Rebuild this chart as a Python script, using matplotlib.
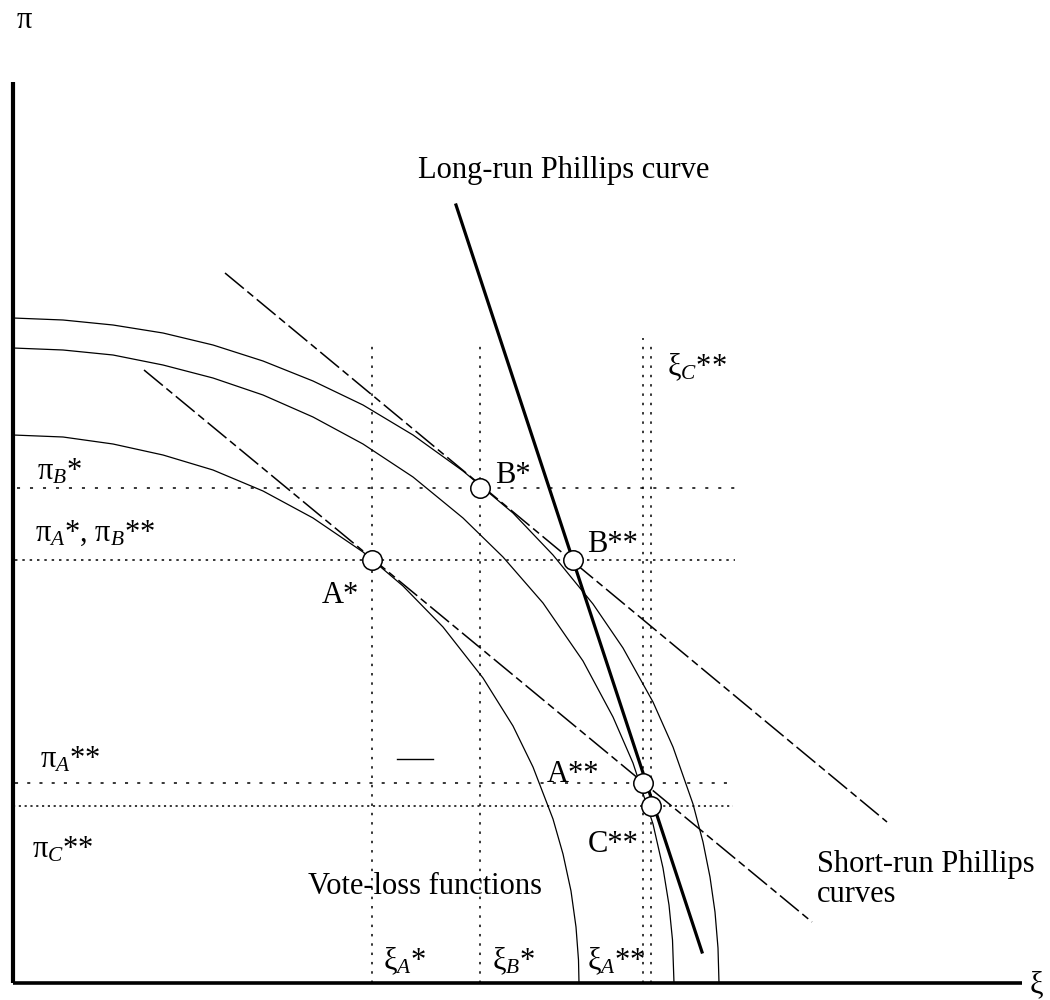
import matplotlib
matplotlib.use('Agg')
import matplotlib.pyplot as plt

plt.rcParams['font.family'] = ['Liberation Serif', 'DejaVu Serif']
plt.rcParams['mathtext.fontset'] = 'custom'
plt.rcParams['mathtext.rm'] = 'Liberation Serif'
plt.rcParams['mathtext.it'] = 'Liberation Serif:italic'

# ---------------- data (ξ = unemployment, π = inflation; arbitrary units) ----------------
axis_xi_max = 10.09
axis_pi_max = 9.01

# vote-loss functions
vl_inner_xi = [0.0, 0.5, 1.0, 1.5, 2.0, 2.5, 3.0, 3.5, 3.9, 4.3, 4.7, 5.0, 5.2,
               5.4, 5.5, 5.58, 5.63, 5.655, 5.66]
vl_inner_pi = [5.48, 5.46, 5.39, 5.28, 5.13, 4.92, 4.65, 4.31, 3.97, 3.56, 3.05, 2.57, 2.16,
               1.64, 1.29, 0.92, 0.56, 0.23, 0.0]

vl_middle_xi = [0.0, 0.5, 1.0, 1.5, 2.0, 2.5, 3.0, 3.5, 4.0, 4.5, 4.9, 5.3, 5.7,
                6.0, 6.2, 6.4, 6.5, 6.56, 6.595, 6.61]
vl_middle_pi = [6.35, 6.33, 6.28, 6.18, 6.05, 5.88, 5.66, 5.39, 5.06, 4.65, 4.26, 3.80, 3.22,
                2.66, 2.20, 1.59, 1.15, 0.78, 0.43, 0.0]

vl_outer_xi = [0.0, 0.5, 1.0, 1.5, 2.0, 2.5, 3.0, 3.5, 4.0, 4.5, 5.0, 5.4, 5.8, 6.1,
               6.4, 6.6, 6.8, 6.9, 6.97, 7.02, 7.05, 7.06]
vl_outer_pi = [6.65, 6.63, 6.58, 6.50, 6.38, 6.22, 6.02, 5.78, 5.48, 5.12, 4.70, 4.28, 3.79, 3.35,
               2.81, 2.36, 1.79, 1.41, 1.06, 0.71, 0.35, 0.0]

# long-run Phillips curve
lrpc_xi = [4.43, 6.89]
lrpc_pi = [7.78, 0.31]

# short-run Phillips curves
srpc_upper_xi = [2.12, 8.74]
srpc_upper_pi = [7.10, 1.61]
srpc_lower_xi = [1.31, 7.99]
srpc_lower_pi = [6.13, 0.61]

# equilibrium points
point_names = ['A*', 'B*', 'B**', 'A**', 'C**']
point_xi = [3.59, 4.67, 5.60, 6.30, 6.38]
point_pi = [4.23, 4.95, 4.23, 2.00, 1.77]

# horizontal reference levels: π_B*, π_A* (= π_B**), π_A**, π_C**
hline_pi = [4.95, 4.23, 2.00, 1.77]
hline_xi_start = [0.04, 0.02, 0.02, 0.00]
hline_xi_end = [7.25, 7.22, 7.22, 7.20]
hline_dash = [(0, (2.0, 6.5)), (0, (1.6, 3.2)), (0, (2.0, 6.0)), (0, (1.4, 2.4))]

# vertical reference levels: ξ_A*, ξ_B*, ξ_A**, ξ_C**
vline_xi = [3.59, 4.67, 6.30, 6.38]
vline_pi_top = [6.41, 6.43, 6.45, 6.43]

# small scan mark
mark_xi = [3.84, 4.20]
mark_pi = [2.24, 2.24]

# ---------------- figure ----------------
fig = plt.figure(figsize=(10.5, 10), dpi=100)
ax = fig.add_axes([0, 0, 1, 1])
ax.set_xlim(-0.13, 10.37)
ax.set_ylim(-0.17, 9.83)
ax.axis('off')

k = 'black'
# axes
ax.plot([0, 0], [0, axis_pi_max], color=k, lw=3.0, solid_capstyle='butt')
ax.plot([0, axis_xi_max], [0, 0], color=k, lw=2.6, solid_capstyle='butt')

# reference lines
for p, x0, x1, ds in zip(hline_pi, hline_xi_start, hline_xi_end, hline_dash):
    ax.plot([x0, x1], [p, p], color=k, lw=1.1, linestyle=ds)
for x, top in zip(vline_xi, vline_pi_top):
    ax.plot([x, x], [0, top], color=k, lw=1.1, linestyle=(0, (1.6, 4.5)))

# vote-loss functions
for xs, ps in [(vl_inner_xi, vl_inner_pi), (vl_middle_xi, vl_middle_pi), (vl_outer_xi, vl_outer_pi)]:
    ax.plot(xs, ps, color=k, lw=0.9, solid_joinstyle='round')

# short-run Phillips curves
dash_sr = (0, (16, 3, 5, 3))
ax.plot(srpc_upper_xi, srpc_upper_pi, color=k, lw=1.1, linestyle=dash_sr)
ax.plot(srpc_lower_xi, srpc_lower_pi, color=k, lw=1.1, linestyle=dash_sr)

# long-run Phillips curve
ax.plot(lrpc_xi, lrpc_pi, color=k, lw=2.3)

ax.plot(mark_xi, mark_pi, color=k, lw=1.0)

# points
ax.plot(point_xi, point_pi, 'o', ms=14, mfc='white', mec=k, mew=1.1, zorder=5)

fs = 22
def t(x, y, s, **kw):
    ax.text(x, y, s, fontsize=fs, ha='left', va='baseline', color=k, **kw)

t(0.04, 9.55, 'π')
t(4.05, 8.05, 'Long-run Phillips curve')
t(0.24, 5.03, 'π$_{B}$*')
t(0.22, 4.42, 'π$_{A}$*, π$_{B}$**')
t(3.09, 3.80, 'A*')
t(4.82, 5.00, 'B*')
t(5.74, 4.31, 'B**')
t(6.54, 6.08, 'ξ$_{C}$**')
t(0.27, 2.16, 'π$_{A}$**')
t(0.19, 1.26, 'π$_{C}$**')
t(5.34, 2.01, 'A**')
t(5.75, 1.31, 'C**')
t(2.95, 0.89, 'Vote-loss functions')
t(8.04, 1.11, 'Short-run Phillips')
t(8.04, 0.81, 'curves')
t(3.70, 0.14, 'ξ$_{A}$*')
t(4.79, 0.14, 'ξ$_{B}$*')
t(5.74, 0.14, 'ξ$_{A}$**')
ax.text(10.17, -0.02, 'ξ', fontsize=fs, ha='left', va='center', color=k)

fig.savefig('out.png', dpi=100)
